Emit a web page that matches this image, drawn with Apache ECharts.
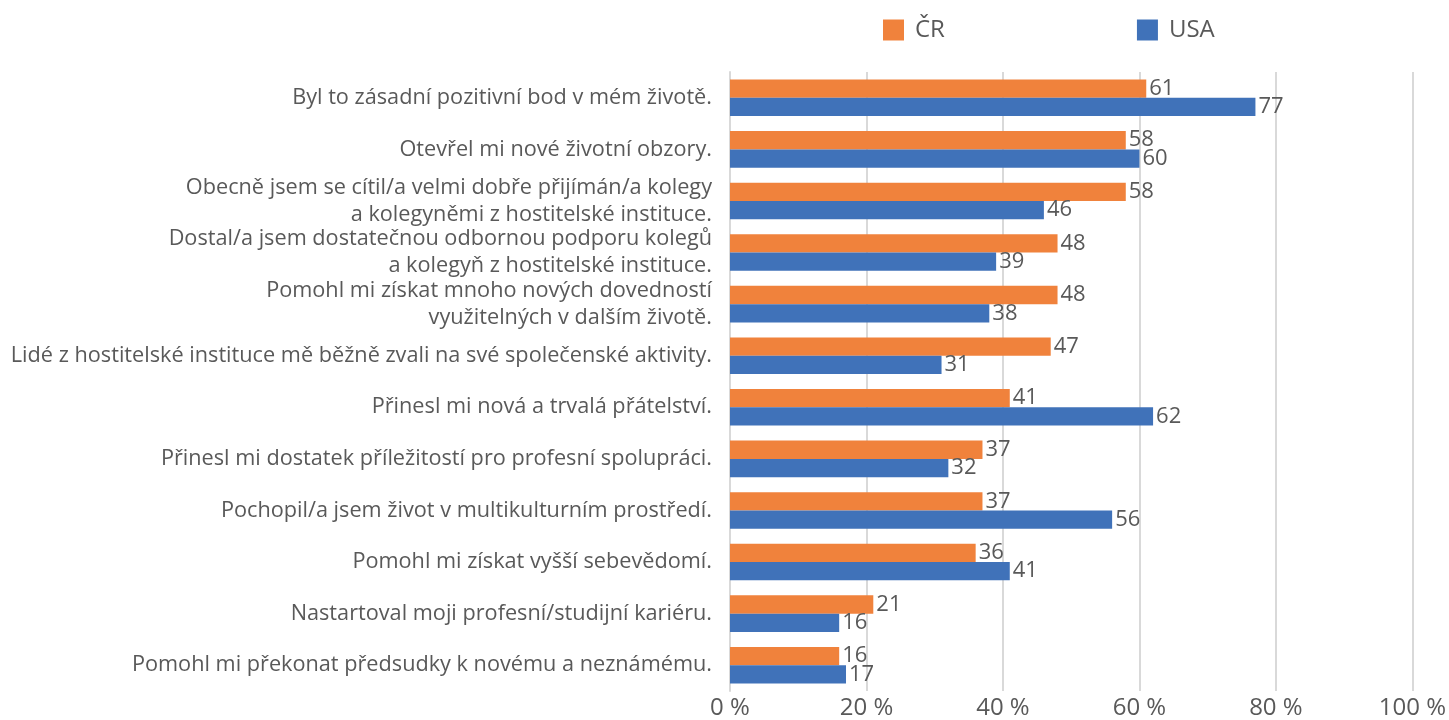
<!DOCTYPE html>
<html>
<head>
<meta charset="utf-8">
<script src="https://cdn.jsdelivr.net/npm/echarts@6/dist/echarts.min.js"></script>
<style>html,body{margin:0;padding:0;background:#fff;}#c{width:1449px;height:720px;}</style>
</head>
<body>
<div id="c"></div>
<script>
const categories = [
  "Byl to zásadní pozitivní bod v mém životě.",
  "Otevřel mi nové životní obzory.",
  "Obecně jsem se cítil/a velmi dobře přijímán/a kolegy\na kolegyněmi z hostitelské instituce.",
  "Dostal/a jsem dostatečnou odbornou podporu kolegů\na kolegyň z hostitelské instituce.",
  "Pomohl mi získat mnoho nových dovedností\nvyužitelných v dalším životě.",
  "Lidé z hostitelské instituce mě běžně zvali na své společenské aktivity.",
  "Přinesl mi nová a trvalá přátelství.",
  "Přinesl mi dostatek příležitostí pro profesní spolupráci.",
  "Pochopil/a jsem život v multikulturním prostředí.",
  "Pomohl mi získat vyšší sebevědomí.",
  "Nastartoval moji profesní/studijní kariéru.",
  "Pomohl mi překonat předsudky k novému a neznámému."
];
const seriesNames = ["ČR", "USA"];
const valuesCR = [61, 58, 58, 48, 48, 47, 41, 37, 37, 36, 21, 16];
const valuesUSA = [77, 60, 46, 39, 38, 31, 62, 32, 56, 41, 16, 17];
const xTicks = [0, 20, 40, 60, 80, 100];

const FONT = "'Open Sans', 'Noto Sans', sans-serif";
const TXT = "#595959";
const chart = echarts.init(document.getElementById('c'), null, {renderer: 'canvas'});
const labelCfg = {show: true, position: 'right', distance: 3, color: TXT, fontSize: 22, fontFamily: FONT};
chart.setOption({
  animation: false,
  textStyle: {fontFamily: FONT},
  legend: {
    data: seriesNames,
    left: 878, top: 13,
    itemWidth: 21, itemHeight: 21, itemGap: 192,
    icon: 'rect',
    textStyle: {color: TXT, fontSize: 24, fontFamily: FONT, padding: [0, 0, 0, 6]}
  },
  grid: {left: 730, right: 30, top: 72, bottom: 26, containLabel: false},
  xAxis: {
    type: 'value', min: xTicks[0], max: xTicks[xTicks.length - 1], interval: 20,
    axisLine: {show: false}, axisTick: {show: false},
    splitLine: {show: true, lineStyle: {color: '#d9d9d9', width: 2}},
    axisLabel: {color: TXT, fontSize: 24, fontFamily: FONT, margin: 5, formatter: v => v + ' %'}
  },
  yAxis: {
    type: 'category', data: categories, inverse: true,
    axisLine: {show: true, lineStyle: {color: '#d9d9d9', width: 2}},
    axisTick: {show: false},
    axisLabel: {color: TXT, fontSize: 21.7, fontFamily: FONT, margin: 18, lineHeight: 27, align: 'right'}
  },
  series: [
    {name: seriesNames[0], type: 'bar', data: valuesCR, itemStyle: {color: '#F0823C'},
     barGap: '0%', barCategoryGap: '29%', label: labelCfg},
    {name: seriesNames[1], type: 'bar', data: valuesUSA, itemStyle: {color: '#4072B9'},
     barGap: '0%', barCategoryGap: '29%', label: labelCfg}
  ]
});
</script>
</body>
</html>
